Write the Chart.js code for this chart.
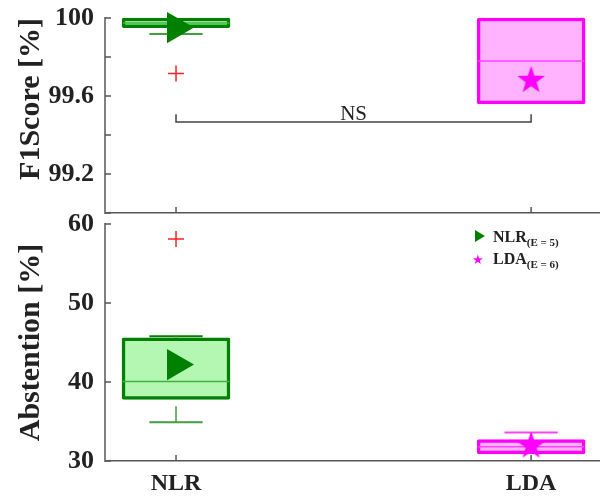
<!DOCTYPE html>
<html>
<head>
<meta charset="utf-8">
<script src="https://cdn.jsdelivr.net/npm/chart.js@4.4.1/dist/chart.umd.min.js"></script>
<style>
  body { margin: 0; background: #fff; }
  #wrap { position: relative; width: 600px; height: 497px; }
  #arriba { position: absolute; left: 0; top: 0; }
  #abajo { position: absolute; left: 0; top: 196px; }
  #leyenda { position: absolute; left: 472px; top: 226px; font-family: "Liberation Serif", serif; font-weight: bold; color: #222; }
  .fila { height: 22px; line-height: 22px; font-size: 16px; white-space: nowrap; }
  .fila sub { font-size: 11px; vertical-align: -4px; }
  .tri { display: inline-block; width: 0; height: 0; border-top: 6px solid transparent; border-bottom: 6px solid transparent; border-left: 10px solid #008000; margin: 0 8px 0 3px; }
  .est { display: inline-block; width: 18px; color: #ff00ff; font-family: "DejaVu Sans"; font-size: 13px; margin-right: 3px; }
</style>
</head>
<body>
<div id="wrap">
  <canvas id="arriba" width="600" height="216"></canvas>
  <canvas id="abajo" width="600" height="301"></canvas>
  <div id="leyenda">
    <div class="fila"><span class="tri"></span>NLR<sub>(E = 5)</sub></div>
    <div class="fila"><span class="est">★</span>LDA<sub>(E = 6)</sub></div>
  </div>
</div>
<script>
// Categorías (clasificadores)
const categorias = ["NLR", "LDA"];

// F1Score [%]
const f1Min = [99.918, 99.56];
const f1Q1 = [99.95, 99.56];
const f1Mediana = [99.975, 99.78];
const f1Q3 = [100, 100];
const f1Max = [100, 100];
const f1Media = [99.951, 99.68];
const f1Atipicos = [[99.716], []];
const f1Etiquetas = [100, 99.6, 99.2];
const nsNivel = 99.467;

// Abstention [%]
const abMin = [34.9, 30.9];
const abQ1 = [37.8, 30.9];
const abMediana = [40.05, 31.8];
const abQ3 = [45.6, 32.7];
const abMax = [45.8, 33.6];
const abMedia = [42.2, 31.9];
const abAtipicos = [[58.1], []];

// Colores por categoría
const borde = ["#008000", "#ff00ff"];
const relleno = ["#b3f7b3", "#ffb3ff"];
const colMediana = ["#3cb33c", "#ff40ff"];
const colBigote = ["#3f9f3f", "#ff40ff"];

const fuente = "'Liberation Serif', 'Times New Roman', serif";
const medioAncho = 0.15;
const medioTope = 0.075;

// Estrella rellena para la media de LDA
function crearEstrella(r, color) {
  const c = document.createElement("canvas");
  c.width = c.height = Math.ceil(r * 2 + 2);
  const g = c.getContext("2d");
  const cx = c.width / 2, cy = c.height / 2;
  g.beginPath();
  for (let i = 0; i < 10; i++) {
    const rad = i % 2 === 0 ? r : r * 0.4;
    const ang = -Math.PI / 2 + i * Math.PI / 5;
    g.lineTo(cx + rad * Math.cos(ang), cy + rad * Math.sin(ang));
  }
  g.closePath();
  g.fillStyle = color;
  g.fill();
  return c;
}
const estrella = crearEstrella(14.5, "#ff00ff");

function linea(datos, color, ancho, extra) {
  return Object.assign({
    type: "line", data: datos, borderColor: color, borderWidth: ancho,
    pointRadius: 0, fill: false, clip: false, order: 3
  }, extra || {});
}

// Construye las cajas, bigotes, medianas, atípicos y medias
function construirDatasets(min, q1, med, q3, max, media, atipicos) {
  const ds = [];
  ds.push({
    type: "bar",
    data: categorias.map((c, i) => ({ x: i, y: [q1[i], q3[i]] })),
    backgroundColor: relleno, borderColor: borde, borderWidth: 3.5,
    borderSkipped: false, borderRadius: 2, barThickness: 108, clip: false, order: 5
  });
  categorias.forEach((c, i) => {
    ds.push(linea([{ x: i - medioAncho, y: med[i] }, { x: i + medioAncho, y: med[i] }], colMediana[i], 1.5));
    if (min[i] < q1[i]) {
      ds.push(linea([{ x: i, y: min[i] }, { x: i, y: q1[i] }], colBigote[i], 1.5, { borderDash: [16, 8] }));
      ds.push(linea([{ x: i - medioTope, y: min[i] }, { x: i + medioTope, y: min[i] }], colBigote[i], 2));
    }
    if (max[i] > q3[i]) {
      ds.push(linea([{ x: i, y: q3[i] }, { x: i, y: max[i] }], colBigote[i], 1.5, { borderDash: [16, 8] }));
      ds.push(linea([{ x: i - medioTope, y: max[i] }, { x: i + medioTope, y: max[i] }], i === 0 ? borde[i] : colBigote[i], 2));
    }
  });
  const puntosAtipicos = [];
  atipicos.forEach((lista, i) => lista.forEach(v => puntosAtipicos.push({ x: i, y: v })));
  ds.push({
    type: "scatter", data: puntosAtipicos, pointStyle: "cross", pointRadius: 8,
    borderColor: "#ff2020", borderWidth: 1.5, clip: false, order: 2
  });
  ds.push({
    type: "scatter",
    data: categorias.map((c, i) => ({ x: i, y: media[i] })),
    pointStyle: ["triangle", estrella], rotation: [90, 0], pointRadius: [18, 14],
    backgroundColor: ["#008000", "#ff00ff"], borderColor: ["#008000", "#ff00ff"],
    borderWidth: 0, clip: false, order: 1
  });
  return ds;
}

// Marcas de los ejes hacia adentro y texto NS
const marcasInternas = {
  id: "marcasInternas",
  beforeDatasetsDraw(chart) {
    const { ctx, chartArea, scales } = chart;
    ctx.save();
    ctx.strokeStyle = "#555";
    ctx.lineWidth = 1.5;
    scales.y.ticks.forEach(t => {
      const y = scales.y.getPixelForValue(t.value);
      ctx.beginPath(); ctx.moveTo(chartArea.left, y); ctx.lineTo(chartArea.left + 6, y); ctx.stroke();
    });
    scales.x.ticks.forEach(t => {
      const x = scales.x.getPixelForValue(t.value);
      ctx.beginPath(); ctx.moveTo(x, chartArea.bottom); ctx.lineTo(x, chartArea.bottom - 6); ctx.stroke();
    });
    ctx.restore();
  },
  afterDatasetsDraw(chart, args, opts) {
    if (!opts.ns) return;
    const { ctx, scales } = chart;
    ctx.save();
    ctx.font = "21px " + fuente;
    ctx.fillStyle = "#222";
    ctx.textAlign = "center";
    ctx.textBaseline = "alphabetic";
    ctx.fillText("NS", (scales.x.getPixelForValue(0) + scales.x.getPixelForValue(1)) / 2, scales.y.getPixelForValue(nsNivel) - 2);
    ctx.restore();
  }
};

function opciones(yMin, yMax, paso, titulo, alinear, etiquetaY, conEtiquetasX, altoX, margenArriba) {
  return {
    responsive: false, animation: false, devicePixelRatio: 1,
    layout: { autoPadding: false, padding: { top: margenArriba, left: 0, right: 0, bottom: 0 } },
    plugins: { legend: { display: false }, tooltip: { enabled: false }, marcasInternas: { ns: !conEtiquetasX } },
    scales: {
      x: {
        type: "linear", min: -0.2, max: 1.194, offset: false,
        grid: { display: false, drawTicks: false },
        border: { display: true, color: "#555", width: 1.5 },
        afterBuildTicks: s => { s.ticks = categorias.map((c, i) => ({ value: i })); },
        afterFit: s => { s.height = altoX; s.paddingLeft = 0; s.paddingRight = 0; },
        ticks: {
          display: conEtiquetasX, padding: 8, color: "#222",
          font: { family: fuente, size: 24, weight: "bold" },
          callback: v => categorias[v]
        }
      },
      y: {
        min: yMin, max: yMax,
        grid: { display: false, drawTicks: false },
        border: { display: true, color: "#808080", width: 2 },
        afterFit: s => { s.width = 105; s.paddingTop = 0; s.paddingBottom = 0; },
        title: {
          display: true, text: titulo, color: "#222", align: alinear,
          font: { family: fuente, size: 30, weight: "bold" }, padding: { top: 13, bottom: 0 }
        },
        ticks: {
          stepSize: paso, padding: 11, color: "#222",
          font: { family: fuente, size: 26, weight: "bold" },
          callback: etiquetaY
        }
      }
    }
  };
}

const datosArriba = construirDatasets(f1Min, f1Q1, f1Mediana, f1Q3, f1Max, f1Media, f1Atipicos);
datosArriba.push(linea([
  { x: 0, y: nsNivel + 0.04 }, { x: 0, y: nsNivel }, { x: 1, y: nsNivel }, { x: 1, y: nsNivel + 0.04 }
], "#444", 1.5));

new Chart(document.getElementById("arriba"), {
  type: "bar",
  data: { datasets: datosArriba },
  options: opciones(99, 100, 0.2, "F1Score [%]", "end", v => {
    const r = Math.round(v * 10) / 10;
    return f1Etiquetas.includes(r) ? String(r) : "";
  }, false, 3, 18),
  plugins: [marcasInternas]
});

new Chart(document.getElementById("abajo"), {
  type: "bar",
  data: { datasets: construirDatasets(abMin, abQ1, abMediana, abQ3, abMax, abMedia, abAtipicos) },
  options: opciones(30, 60, 10, "Abstention [%]", "center", v => String(v), true, 36, 28),
  plugins: [marcasInternas]
});
</script>
</body>
</html>
